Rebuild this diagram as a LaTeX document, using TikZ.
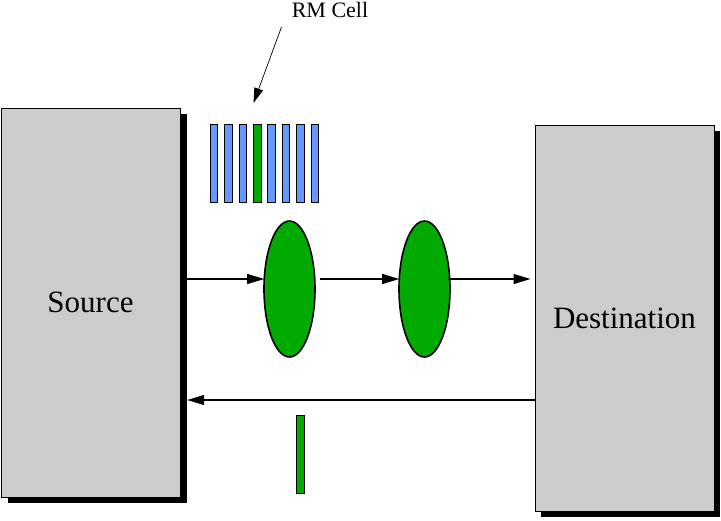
\documentclass[tikz,border=0pt]{standalone}
\usepackage{fontspec}
\setmainfont{Liberation Serif}
\usetikzlibrary{arrows.meta,shapes.geometric,calc}
\definecolor{boxgray}{HTML}{CCCCCC}
\definecolor{cellblue}{HTML}{6699FF}
\definecolor{cellgreen}{HTML}{00AA00}
\tikzset{
  endbox/.style={draw=black,line width=1pt,fill=boxgray,rectangle,inner sep=0pt,
    font=\rmfamily\fontsize{31}{37}\selectfont},
  shadowbox/.style={fill=black,draw=none,rectangle,inner sep=0pt},
  cellbox/.style={draw=black,line width=0.8pt,rectangle,inner sep=0pt,minimum width=7.5pt,minimum height=78pt},
  switchnode/.style={draw=black,line width=1.6pt,fill=cellgreen,ellipse,inner sep=0pt,minimum width=51pt,minimum height=136pt},
  arr/.style={line width=1.3pt,-{Triangle[length=17pt,width=10pt]}},
}
\begin{document}
\begin{tikzpicture}[x=1pt,y=-1pt]
\useasboundingbox (0,0) rectangle (721,520);
% shadows
\node[shadowbox,minimum width=179pt,minimum height=389pt] (srcsh) at (97.5,308.5) {};
\node[shadowbox,minimum width=179pt,minimum height=386pt] (dstsh) at (630.5,324) {};
% end systems
\node[endbox,minimum width=179pt,minimum height=389pt] (src) at (90.5,302.5) {Source};
\node[endbox,minimum width=179pt,minimum height=386pt] (dst) at (624.5,318) {Destination};
% switches
\node[switchnode] (e1) at (289.5,289) {};
\node[switchnode] (e2) at (424.5,289) {};
% cells
\foreach \i/\c in {0/cellblue,1/cellblue,2/cellblue,3/cellgreen,4/cellblue,5/cellblue,6/cellblue,7/cellblue}{
  \node[cellbox,fill=\c] (c\i) at ({214+14.4*\i},163) {};
}
\node[cellbox,fill=cellgreen,minimum width=8pt,minimum height=78pt] (rm) at (300,454) {};
% label
\node[font=\rmfamily\fontsize{22}{26}\selectfont] (lbl) at (330,10) {RM Cell};
\coordinate (lblfoot) at (281.5,27);
\coordinate (lbltip) at (253.5,103);
\draw[line width=0.7pt,-{Triangle[length=15pt,width=9pt]}] (lblfoot) -- (lbltip);
% forward arrows
\draw[arr] (srcsh.east |- 0,279) -- ($(e1.west |- 0,279)+(1,0)$);
\draw[arr] ($(e1.east |- 0,279)+(4,0)$) -- ($(e2.west |- 0,279)+(1,0)$);
\draw[arr] ($(e2.east |- 0,279)+(-3,0)$) -- ($(dst.west |- 0,279)+(-4,0)$);
% backward arrow
\draw[arr] (dst.west |- 0,400) -- (srcsh.east |- 0,400);
\end{tikzpicture}
\end{document}
